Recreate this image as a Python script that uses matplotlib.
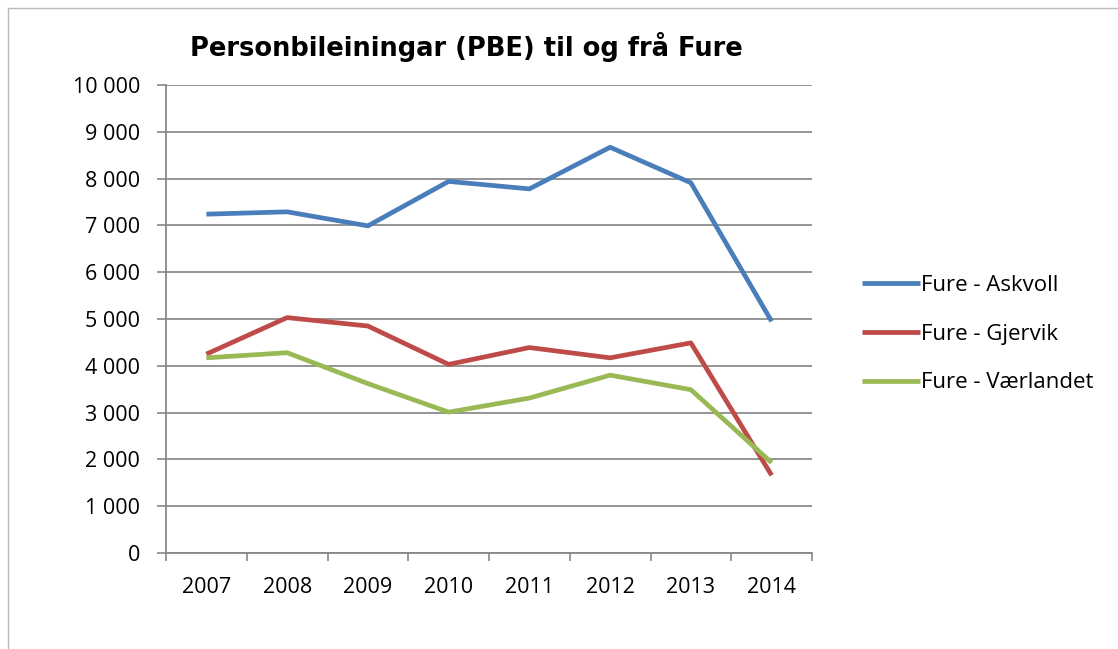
import matplotlib.pyplot as plt
from matplotlib.ticker import FuncFormatter

# ---------- DATA ----------
years = ["2007", "2008", "2009", "2010", "2011", "2012", "2013", "2014"]
askvoll = [7240, 7290, 6990, 7940, 7780, 8670, 7910, 4950]
gjervik = [4250, 5030, 4850, 4030, 4390, 4170, 4490, 1660]
vaerlandet = [4170, 4280, 3620, 3010, 3310, 3800, 3490, 1930]

series = [
    ("Fure - Askvoll", askvoll, "#4a7ebb"),
    ("Fure - Gjervik", gjervik, "#be4b48"),
    ("Fure - Værlandet", vaerlandet, "#98b954"),
]

plt.rcParams['font.family'] = ['Open Sans', 'DejaVu Sans']

fig = plt.figure(figsize=(11.18, 6.49), dpi=100)
ax = fig.add_axes([166 / 1118, 96 / 649, 646 / 1118, 468 / 649])

x = list(range(len(years)))
for name, vals, col in series:
    ax.plot(x, vals, color=col, lw=3.4, label=name, solid_capstyle='butt')

ax.set_xlim(-0.5, len(years) - 0.5)
ax.set_ylim(0, 10000)
ax.set_yticks(range(0, 10001, 1000))
ax.yaxis.set_major_formatter(FuncFormatter(lambda v, p: f"{int(v):,}".replace(",", " ")))

# category boundaries as tick marks, labels at centres
ax.set_xticks([i - 0.5 for i in range(len(years) + 1)])
ax.set_xticklabels([])
ax.set_xticks(x, minor=True)
ax.set_xticklabels(years, minor=True)
ax.tick_params(axis='x', which='major', length=5.5, color='#888888', width=1.2)
ax.tick_params(axis='x', which='minor', length=0, pad=17, labelsize=15.5)
ax.tick_params(axis='y', length=6.5, color='#888888', width=1.2, labelsize=15.5, pad=12)

ax.grid(axis='y', color='#8c8c8c', lw=1.3)
ax.set_axisbelow(True)
for s in ['top', 'right']:
    ax.spines[s].set_visible(False)
for s in ['left', 'bottom']:
    ax.spines[s].set_color('#888888')
    ax.spines[s].set_linewidth(1.3)

fig.text(466 / 1118, 1 - 47 / 649, "Personbileiningar (PBE) til og frå Fure",
         ha='center', va='center', fontsize=18.5, fontweight='bold',
         family=['DejaVu Sans'])

fig.legend(loc='upper left', bbox_to_anchor=(853 / 1118, 1 - 266 / 649),
           frameon=False, fontsize=16, handlelength=2.6, handletextpad=0.05,
           labelspacing=1.25, borderaxespad=0)

# chart frame
fig.add_artist(plt.Line2D([8 / 1118, 8 / 1118], [0, 1 - 8 / 649],
                          transform=fig.transFigure, color='#bbbbbb', lw=1))
fig.add_artist(plt.Line2D([8 / 1118, 1], [1 - 8 / 649, 1 - 8 / 649],
                          transform=fig.transFigure, color='#bbbbbb', lw=1))

fig.savefig("out.png", dpi=100)
